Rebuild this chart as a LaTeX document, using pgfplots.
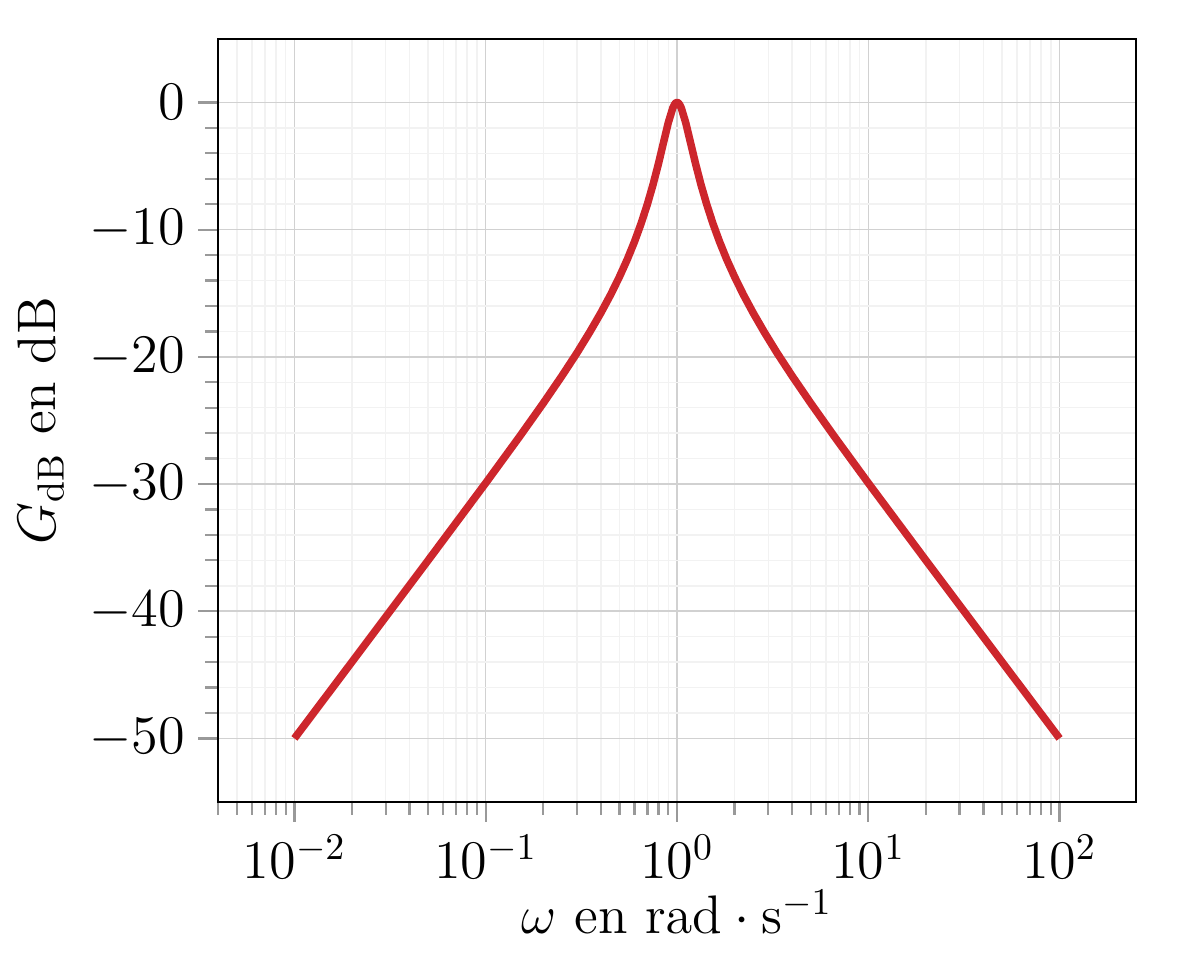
\documentclass[border=0pt]{standalone}
\usepackage{pgfplots}
\pgfplotsset{compat=1.18}
\definecolor{curvered}{RGB}{205,38,44}
\begin{document}
\begin{tikzpicture}
\begin{axis}[
  width=243.5pt, height=202.4pt, scale only axis,
  xmode=log,
  xmin=0.003981, xmax=251.19,
  ymin=-55, ymax=5,
  ytick={-50,-40,-30,-20,-10,0},
  minor y tick num=4,
  grid=both,
  major grid style={black!18, line width=0.4pt},
  minor grid style={black!5, line width=0.4pt},
  tick pos=left, tick align=outside,
  major tick length=5.2pt, minor tick length=3.4pt,
  every tick/.style={black!40, line width=0.6pt},
  axis line style={black, line width=0.6pt},
  tick label style={font=\Large},
  label style={font=\Large},
  xlabel={$\omega$ en $\mathrm{rad}\cdot\mathrm{s}^{-1}$},
  ylabel={$G_{\mathrm{dB}}$ en dB},
  xlabel style={yshift=4pt},
]
\addplot[curvered, line width=2pt, line join=round, line cap=butt] coordinates {
(0.01,-50.00) (0.02,-43.98) (0.05,-36.00) (0.1,-29.92) (0.15,-26.29)
(0.2,-23.64) (0.25,-21.51) (0.3,-19.69) (0.35,-18.05) (0.4,-16.54)
(0.45,-15.11) (0.5,-13.71) (0.55,-12.33) (0.6,-10.93) (0.65,-9.49)
(0.7,-8.00) (0.75,-6.44) (0.8,-4.81) (0.85,-3.15) (0.9,-1.60)
(0.95,-0.44) (0.97,-0.16) (0.98,-0.07) (0.99,-0.02) (1,0)
(1.0101,-0.02) (1.0204,-0.07) (1.031,-0.16) (1.053,-0.44) (1.111,-1.60)
(1.176,-3.15) (1.25,-4.81) (1.333,-6.44) (1.429,-8.00) (1.538,-9.49)
(1.667,-10.93) (1.818,-12.33) (2,-13.71) (2.222,-15.11) (2.5,-16.54)
(2.857,-18.05) (3.333,-19.69) (4,-21.51) (5,-23.64) (6.667,-26.29)
(10,-29.92) (20,-36.00) (50,-43.98) (100,-50.00)
};
\end{axis}
\pgfresetboundingbox
\path ([xshift=-57.8pt,yshift=-41.4pt]current axis.south west) rectangle ([xshift=14.3pt,yshift=10.3pt]current axis.north east);
\end{tikzpicture}
\end{document}
